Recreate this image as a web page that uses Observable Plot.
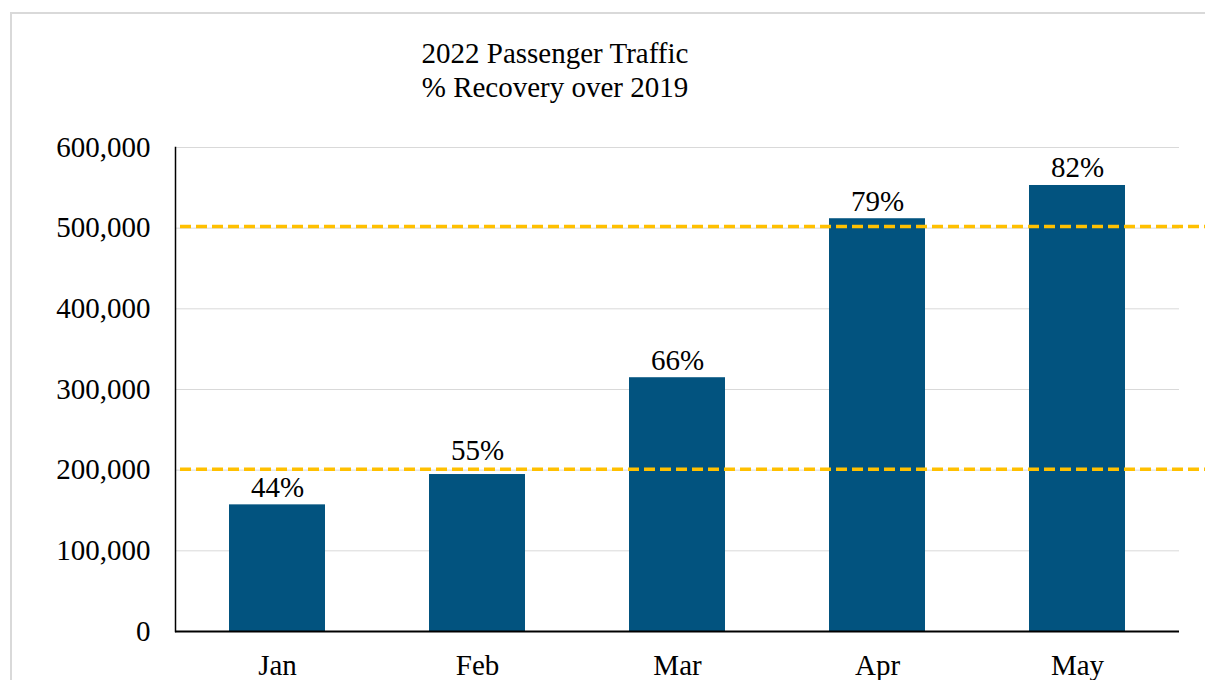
<!DOCTYPE html>
<html>
<head>
<meta charset="utf-8">
<script src="https://cdn.jsdelivr.net/npm/d3@7"></script>
<script src="https://cdn.jsdelivr.net/npm/@observablehq/plot@0.6"></script>
<style>
  html, body { margin: 0; padding: 0; background: #fff; overflow: hidden; width: 1205px; height: 680px; }
  #frame { position: absolute; left: 10px; top: 12px; width: 1300px; height: 800px; border-left: 2px solid #d9d9d9; border-top: 2px solid #d9d9d9; box-sizing: border-box; }
  #title { position: absolute; left: 0; top: 36px; width: 1110px; text-align: center; font-family: 'Liberation Serif', 'Times New Roman', serif; font-size: 29px; line-height: 34px; color: #000; }
  #chart { position: absolute; left: 0; top: 110px; }
  #chart svg text { font-family: 'Liberation Serif', 'Times New Roman', serif; }
</style>
</head>
<body>
<div id="frame"></div>
<div id="title">2022 Passenger Traffic<br>% Recovery over 2019</div>
<div id="chart"></div>
<script>
const months = ["Jan", "Feb", "Mar", "Apr", "May"];
const passengers = [157000, 194600, 314600, 511700, 552900];
const recovery = [44, 55, 66, 79, 82];
const refLines = [502000, 201200];
const yTicks = [0, 100000, 200000, 300000, 400000, 500000, 600000];
const gridTicks = [100000, 200000, 300000, 400000, 500000, 600000];

const data = months.map((m, i) => ({month: m, value: passengers[i], pct: recovery[i]}));
const font = "'Liberation Serif', 'Times New Roman', serif";

const chart = Plot.plot({
  width: 1205,
  height: 570,
  marginTop: 37,
  marginBottom: 49,
  marginLeft: 175,
  marginRight: 26,
  style: {fontFamily: font, fontSize: "29px", color: "#000", background: "transparent", overflow: "visible"},
  x: {domain: months, paddingInner: 0.52, paddingOuter: 0.26, label: null},
  y: {domain: [0, 600000], label: null},
  marks: [
    Plot.ruleY(gridTicks, {stroke: "#d9d9d9", strokeWidth: 1}),
    Plot.barY(data, {x: "month", y: "value", fill: "#02537f"}),
    Plot.ruleY(refLines, {stroke: "#FFC000", strokeWidth: 3.5, strokeDasharray: "11,5", insetLeft: 5, insetRight: -40}),
    Plot.text(data.filter(d => d.month !== "Feb"), {x: "month", y: "value", text: d => d.pct + "%", lineAnchor: "bottom", dy: -8, fontSize: 29, fontFamily: font, fill: "#000"}),
    Plot.text(data.filter(d => d.month === "Feb"), {x: "month", y: "value", text: d => d.pct + "%", lineAnchor: "bottom", dy: -15, fontSize: 29, fontFamily: font, fill: "#000"}),
    Plot.axisY({ticks: yTicks, tickFormat: d3.format(","), tickSize: 0, tickPadding: 25, fontSize: 29, fontFamily: font, label: null}),
    Plot.axisX({tickSize: 0, tickPadding: 23, fontSize: 29, fontFamily: font, label: null}),
    Plot.frame({anchor: "left", stroke: "#000", strokeWidth: 1.5}),
    Plot.ruleY([0], {stroke: "#000", strokeWidth: 2})
  ]
});
document.getElementById("chart").appendChild(chart);
</script>
</body>
</html>
